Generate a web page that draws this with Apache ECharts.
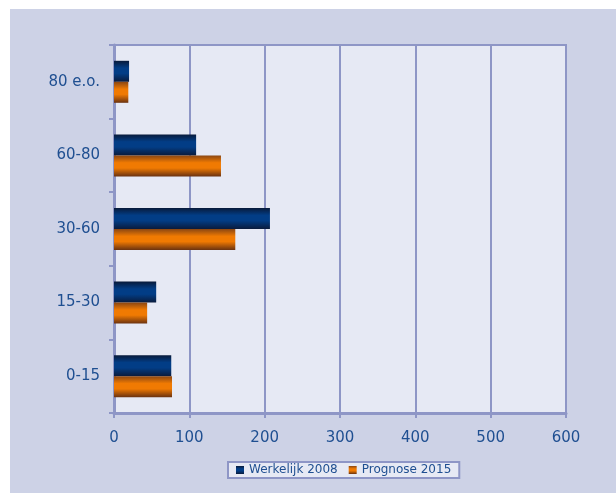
<!DOCTYPE html>
<html>
<head>
<meta charset="utf-8">
<script src="https://cdn.jsdelivr.net/npm/echarts@6/dist/echarts.min.js"></script>
<style>
  html, body { margin: 0; padding: 0; background: #ffffff; }
  #chart { position: absolute; left: 10px; top: 9px; width: 606px; height: 484px; }
</style>
</head>
<body>
<div id="chart"></div>
<script>
// data
var categories = ['0-15', '15-30', '30-60', '60-80', '80 e.o.'];
var werkelijk2008 = [76, 56, 207, 109, 20];
var prognose2015 = [77, 44, 161, 142, 19];
var seriesNames = ['Werkelijk 2008', 'Prognose 2015'];

var lineColor = '#8e96c6';
var textColor = '#1f4f91';

function grad(top, mid, bottom) {
  return new echarts.graphic.LinearGradient(0, 0, 0, 1, [
    {offset: 0, color: top},
    {offset: 0.35, color: mid},
    {offset: 0.6, color: mid},
    {offset: 1, color: bottom}
  ]);
}

var chart = echarts.init(document.getElementById('chart'));
chart.setOption({
  backgroundColor: '#cdd2e6',
  animation: false,
  textStyle: {fontFamily: 'DejaVu Sans'},
  grid: {
    left: 104, top: 36, right: 50, bottom: 80,
    show: true, backgroundColor: '#e6e9f4',
    borderColor: lineColor, borderWidth: 2
  },
  legend: {
    data: seriesNames,
    left: 218, top: 453,
    itemWidth: 8, itemHeight: 8, itemGap: 11,
    icon: 'rect',
    padding: [2, 8],
    backgroundColor: '#e6e9f4',
    borderColor: lineColor, borderWidth: 2,
    textStyle: {color: textColor, fontSize: 12, fontFamily: 'DejaVu Sans'}
  },
  xAxis: {
    type: 'value',
    min: 0, max: 600, interval: 100,
    axisLine: {show: true, lineStyle: {color: lineColor, width: 3}},
    axisTick: {show: true, length: 5, lineStyle: {color: lineColor, width: 2}},
    splitLine: {lineStyle: {color: lineColor, width: 2}},
    axisLabel: {color: textColor, fontSize: 15, margin: 18}
  },
  yAxis: {
    type: 'category',
    data: categories,
    axisLine: {show: true, lineStyle: {color: lineColor, width: 3}},
    axisTick: {show: true, length: 5, lineStyle: {color: lineColor, width: 2}},
    axisLabel: {color: textColor, fontSize: 15, margin: 14}
  },
  series: [
    {
      name: seriesNames[0], type: 'bar', data: werkelijk2008,
      barWidth: 21, barGap: '0%',
      itemStyle: {color: grad('#081a3a', '#023d86', '#0a1b3c')}
    },
    {
      name: seriesNames[1], type: 'bar', data: prognose2015,
      barWidth: 21, barGap: '0%',
      itemStyle: {color: grad('#8a4612', '#f07a02', '#6a3210')}
    }
  ]
});
</script>
</body>
</html>
